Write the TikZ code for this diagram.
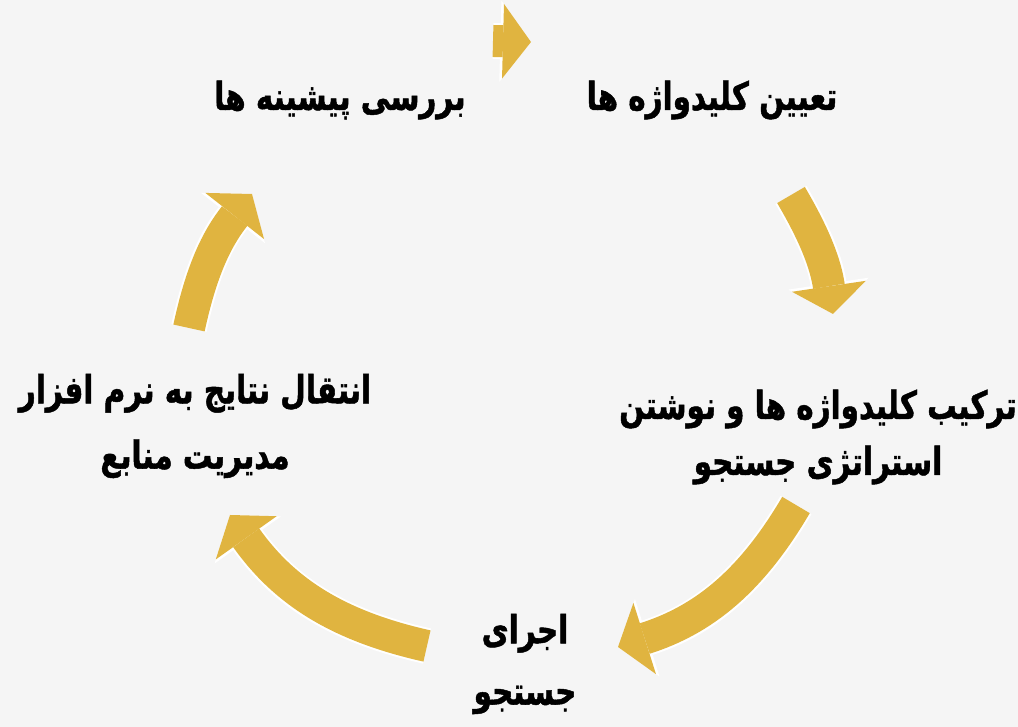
\documentclass[tikz,border=0pt]{standalone}
\usepackage{fontspec}
\newfontfamily\arabicfont[Script=Arabic,FakeStretch=0.76,
  BoldFeatures={FakeBold=1.2}]{DejaVu Sans}
\TeXXeTstate=1
\usetikzlibrary{arrows.meta,positioning}
\definecolor{arrowgold}{RGB}{224,180,64}
\definecolor{paper}{RGB}{245,245,245}

\begin{document}
\begin{tikzpicture}[x=0.75pt,y=0.75pt,
    lbl/.style={align=center,text=black,inner sep=0pt,
      font=\arabicfont\bfseries\fontsize{29}{42}\selectfont},
    flow/.style={draw=arrowgold,line width=24pt,
      -{Triangle[width=56pt,length=21pt,line width=0pt]},
      preaction={draw=white,line width=27pt,
        -{Triangle[width=61pt,length=23pt,line width=0pt]}}}]

    % the paper
    \useasboundingbox (0,0) rectangle (1018,727);
    \fill[paper] (0,0) rectangle (1018,727);

    % the texts
    \node[lbl] (bar) at (340,627) {\beginR بررسی پیشینه ها\endR};
    \node[lbl] (kw) at (712,627) {\beginR تعیین کلیدواژه ها\endR};
    \node[lbl] (comb) at (818,290) {\beginR ترکیب کلیدواژه ها و نوشتن\endR\\
      \beginR استراتژی جستجو\endR};
    \node[lbl] (run) at (525,63) {\beginR اجرای\endR\\[4pt]\beginR جستجو\endR};
    \node[lbl] (move) at (195,301) {\beginR انتقال نتایج به نرم افزار\endR\\[7pt]
      \beginR مدیریت منابع\endR};

    % ends of the arrows
    \coordinate (t1) at (493,686);
    \coordinate (h1) at (531,685);
    \coordinate (t2) at (791,532);
    \coordinate (h2) at (833,413);
    \coordinate (t3) at (796,222);
    \coordinate (h3) at (618,80);
    \coordinate (t4) at (427,81);
    \coordinate (h4) at (230,212);
    \coordinate (t5) at (189,399);
    \coordinate (h5) at (252,533);

    \draw[flow] (t1) -- (h1);
    \draw[flow] (t2) to[bend left=11] (h2);
    \draw[flow] (t3) to[bend left=21] (h3);
    \draw[flow] (t4) to[bend left=21] (h4);
    \draw[flow] (t5) to[bend left=13] (h5);

\end{tikzpicture}
\end{document}
